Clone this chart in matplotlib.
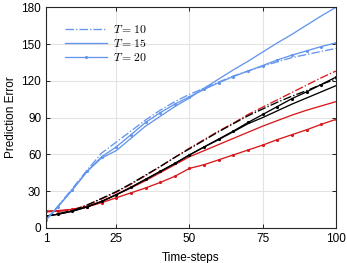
import matplotlib
matplotlib.use('Agg')
import matplotlib.pyplot as plt

plt.rcParams['font.family'] = ['Liberation Sans', 'DejaVu Sans']
plt.rcParams['mathtext.fontset'] = 'cm'

steps = [1, 5, 10, 15, 20, 25, 30, 35, 40, 45, 50, 55, 60, 65, 70, 75, 80, 85, 90, 95, 100]

# blue group
blue_t10 = [6.5, 17.5, 32, 47, 61, 70, 79, 88, 96, 103, 109, 114, 119, 124, 128, 132, 135.5, 139, 141.5, 144, 146.5]
blue_t15 = [6.5, 17, 31, 46, 57, 63, 73, 83, 91, 99, 106, 114, 121.5, 129, 136, 143.5, 151, 158, 165.5, 173, 180]
blue_t20 = [6.5, 17, 31, 46, 58, 66, 76, 86, 94, 101, 107, 113, 118.5, 123.5, 128, 132.5, 137, 141, 144.5, 148, 151]

# red group
red_t10 = [13.5, 13.5, 14.5, 18.5, 23.5, 29, 35.5, 42.5, 50, 57.5, 65, 72, 79, 85.5, 92.5, 98.5, 104.5, 110.5, 116.5, 122.5, 128]
red_t15 = [13, 13.5, 15, 17.5, 21.5, 27, 32.5, 38.5, 45, 51.5, 58, 63, 68, 73, 78, 83, 87.5, 92, 96, 99.5, 103]
red_t20 = [13.5, 14, 15, 17, 20.5, 24.5, 28.5, 32.5, 37, 42, 48.5, 51.5, 55.5, 59.5, 63.5, 67.5, 72, 76, 80, 84.5, 88.5]

# black group
black_t10 = [9.5, 11.5, 14, 18.5, 24, 29.5, 36, 43, 50, 57.5, 64.5, 71.5, 78.5, 85, 91.5, 97, 102.5, 107.5, 112, 117, 121.5]
black_t15 = [9.5, 11, 13.5, 17, 21.5, 27, 33, 39.5, 46, 52.5, 59.5, 66, 72, 78.5, 85, 90, 95.5, 101, 106, 111, 116]
black_t20 = [9.5, 11, 13.5, 17, 21.5, 27, 33, 39.5, 46, 52.5, 59.5, 66, 72.5, 79, 86, 92.5, 99, 105.5, 111, 117, 123]

xticks = [1, 25, 50, 75, 100]
yticks = [0, 30, 60, 90, 120, 150, 180]

c_blue = '#6495ED'
c_red = '#D7191C'
c_black = 'black'
lw = 0.95

fig = plt.figure(figsize=(3.47, 2.63), dpi=100)
ax = fig.add_axes([0.1326, 0.134, 0.8354, 0.838])

# red and black first, blue lines carry the legend
groups = [(c_red, (red_t10, red_t15, red_t20)), (c_black, (black_t10, black_t15, black_t20))]
for col, data in groups:
    ax.plot(steps, data[0], color=col, lw=lw, ls='-.')
    ax.plot(steps, data[1], color=col, lw=lw, ls='-')
    ax.plot(steps, data[2], color=col, lw=lw, ls='-', marker='.', ms=2.5)

ax.plot(steps, blue_t10, color=c_blue, lw=lw, ls='-.', label='$T = 10$')
ax.plot(steps, blue_t15, color=c_blue, lw=lw, ls='-', label='$T = 15$')
ax.plot(steps, blue_t20, color=c_blue, lw=lw, ls='-', marker='.', ms=2.5, label='$T = 20$')

ax.set_xlim(1, 100)
ax.set_ylim(0, 180)
ax.set_xticks(xticks)
ax.set_yticks(yticks)
ax.grid(True, color='#e3e3e3', lw=0.8)
ax.set_axisbelow(True)
ax.tick_params(direction='in', length=3, labelsize=8.5, top=True, right=True, width=0.6)
for s in ax.spines.values():
    s.set_linewidth(0.8)
    s.set_color('#262626')

ax.set_xlabel('Time-steps', fontsize=8.5, labelpad=5)
ax.set_ylabel('Prediction Error', fontsize=8.5, labelpad=3)

ax.legend(loc='upper left', bbox_to_anchor=(0.04, 0.955), frameon=False, fontsize=8.5,
          handlelength=3.6, labelspacing=0.15, borderaxespad=0.2, handletextpad=0.5)

fig.savefig('out.png', dpi=100)
